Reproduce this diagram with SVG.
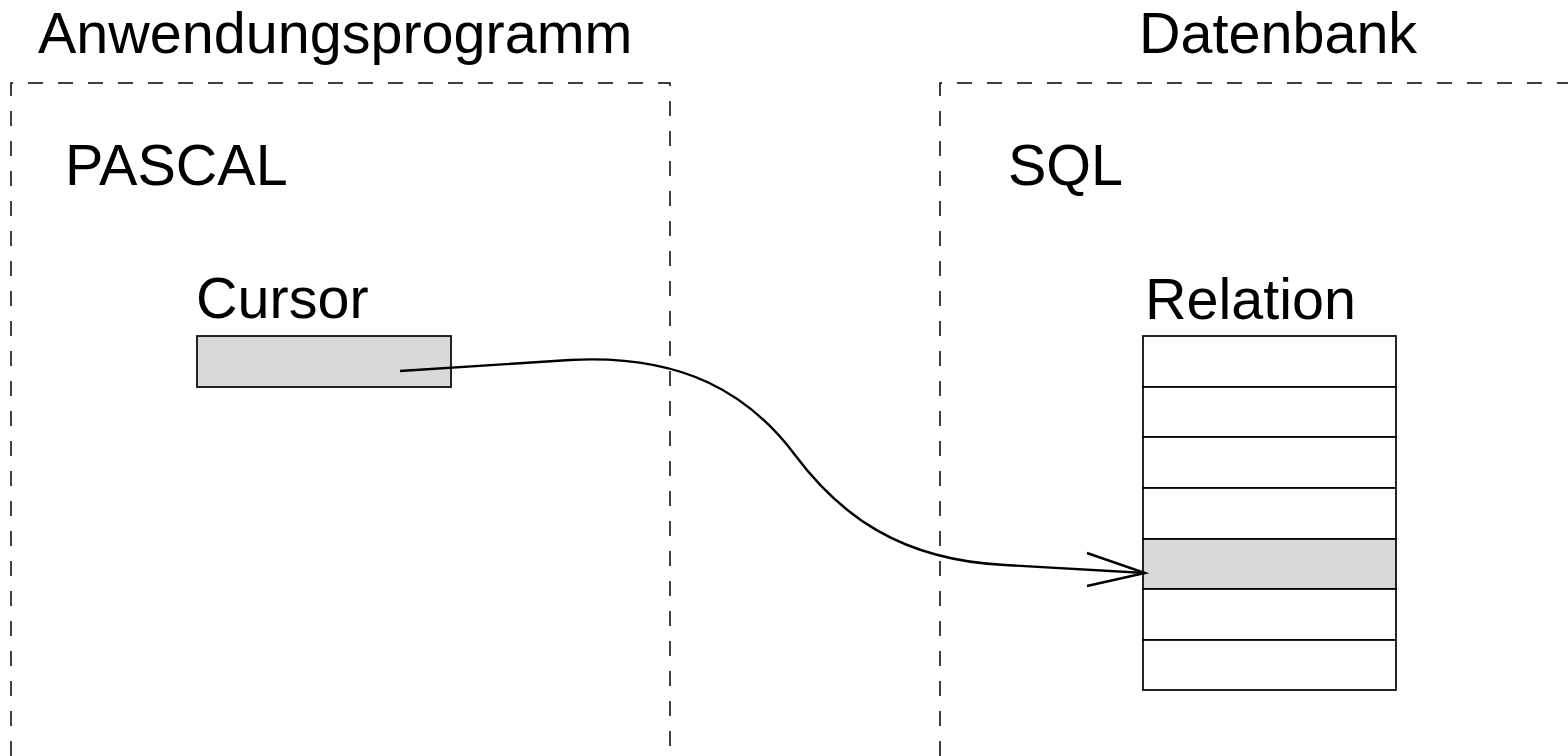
<svg xmlns="http://www.w3.org/2000/svg" width="1568" height="756" viewBox="0 0 1568 756">
  <style>
    .lbl { font-family: "Liberation Sans", Arial, sans-serif; font-size: 57.5px; fill: #000; }
    .frame { fill: none; stroke: #000; stroke-width: 1.5; stroke-dasharray: 15 15; }
    .cell { fill: #fff; stroke: #000; stroke-width: 1.7; }
    .hl { fill: #d9d9d9; stroke: #000; stroke-width: 1.7; }
    .conn { fill: none; stroke: #000; stroke-width: 2.4; }
  </style>

  <!-- section headings -->
  <text class="lbl" x="38" y="53">Anwendungsprogramm</text>
  <text class="lbl" x="1139" y="53">Datenbank</text>

  <!-- application program area -->
  <g id="anwendung">
    <path class="frame" d="M11,756 V83 H670 V756"/>
    <text class="lbl" x="65" y="185">PASCAL</text>
  </g>

  <!-- database area -->
  <g id="datenbank">
    <path class="frame" d="M940,756 V83 H1568"/>
    <text class="lbl" x="1008" y="185">SQL</text>
  </g>

  <!-- cursor variable -->
  <g id="cursor">
    <text class="lbl" x="196" y="318">Cursor</text>
    <rect class="hl" x="197" y="336" width="254" height="51"/>
  </g>

  <!-- relation with its tuples -->
  <g id="relation">
    <text class="lbl" x="1145" y="319">Relation</text>
    <rect class="cell" x="1143" y="336" width="253" height="51"/>
    <rect class="cell" x="1143" y="387" width="253" height="50"/>
    <rect class="cell" x="1143" y="437" width="253" height="51"/>
    <rect class="cell" x="1143" y="488" width="253" height="51"/>
    <rect class="hl" x="1143" y="539" width="253" height="50"/>
    <rect class="cell" x="1143" y="589" width="253" height="51"/>
    <rect class="cell" x="1143" y="640" width="253" height="50"/>
  </g>

  <!-- cursor points at current tuple -->
  <g id="connectors">
    <path class="conn" d="M400,371 L570,360 C685,354 750,395 795,455 C840,515 900,560 1005,565 L1145,573"/>
    <path class="conn" d="M1087,553 L1145,573 L1087,586"/>
  </g>
</svg>
